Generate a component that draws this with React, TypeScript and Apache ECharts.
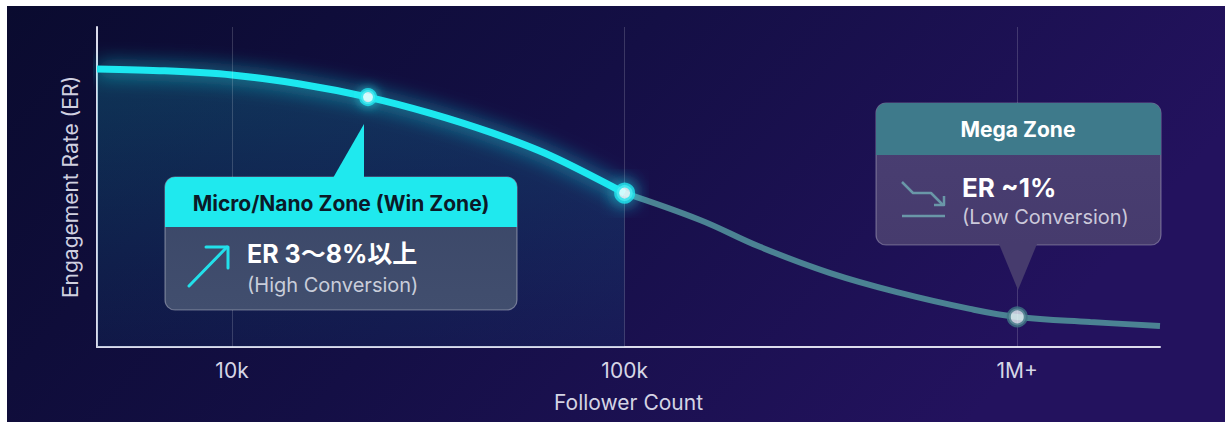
import React, { useEffect, useRef } from "react";
import * as echarts from "echarts";

// Follower counts (log x) and engagement rate (%)
const followers = [4530, 6750, 10000, 14900, 22200, 31900, 46000, 65000, 100000, 155600, 221000, 334000, 503000, 758000, 1000000, 1535000, 2310000];
const engagement = [8.69, 8.63, 8.5, 8.22, 7.81, 7.31, 6.69, 5.97, 4.81, 3.97, 3.13, 2.31, 1.69, 1.19, 0.94, 0.78, 0.66];
const splitFollower = 100000; // cyan (win zone) until here, grey after
const markerFollowers = [22200, 100000, 1000000];
const tickValues = [10000, 100000, 1000000];
const tickLabels = ["10k", "100k", "1M+"];

const FONT = 'Inter, "Noto Sans CJK JP", "Noto Sans", sans-serif';

export default function App() {
  const ref = useRef<HTMLDivElement>(null);

  useEffect(() => {
    if (!ref.current) return;
    const chart = echarts.init(ref.current, null, { renderer: "svg" });

    const pairs = followers.map((f, i) => [f, engagement[i]]);
    const cyanData = pairs.filter((p) => p[0] <= splitFollower);
    const greyData = pairs.filter((p) => p[0] >= splitFollower);
    const erAt = (f: number) => engagement[followers.indexOf(f)];

    const markerStyles = [
      { symbolSize: 14, itemStyle: { color: "#f2ffff", borderColor: "#22e6ef", borderWidth: 4, shadowBlur: 12, shadowColor: "rgba(40,235,245,0.9)" } },
      { symbolSize: 16, itemStyle: { color: "#f2ffff", borderColor: "#22e6ef", borderWidth: 5, shadowBlur: 18, shadowColor: "rgba(40,235,245,1)" } },
      { symbolSize: 17, itemStyle: { color: "#e9f5f7", borderColor: "#3f7585", borderWidth: 4 } },
    ];

    const option: any = {
      animation: false,
      backgroundColor: "#ffffff",
      grid: { left: 97, right: 65, top: 27, bottom: 75 },
      xAxis: {
        type: "log",
        logBase: 10,
        min: followers[0],
        max: followers[followers.length - 1],
        name: "Follower Count",
        nameLocation: "middle",
        nameGap: 45,
        nameTextStyle: { color: "#d4d4e4", fontSize: 21, fontFamily: FONT },
        axisLine: { show: true, lineStyle: { color: "#dcdcec", width: 2 } },
        axisTick: { show: false },
        splitLine: { show: false },
        axisLabel: {
          color: "#d6d6e6",
          fontSize: 21,
          fontFamily: FONT,
          margin: 13,
          showMinLabel: false,
          showMaxLabel: false,
          formatter: (v: number) => {
            const idx = tickValues.findIndex((t) => Math.abs(Math.log10(v) - Math.log10(t)) < 1e-6);
            return idx >= 0 ? tickLabels[idx] : "";
          },
        },
      },
      yAxis: {
        type: "value",
        min: 0,
        max: 10,
        name: "Engagement Rate (ER)",
        nameLocation: "middle",
        nameGap: 16,
        nameRotate: 90,
        nameTextStyle: { color: "#d0d0e0", fontSize: 21, fontFamily: FONT },
        axisLine: { show: true, lineStyle: { color: "#dcdcec", width: 2 } },
        axisTick: { show: false },
        axisLabel: { show: false },
        splitLine: { show: false },
      },
      series: [
        {
          type: "line",
          data: greyData,
          smooth: 0.4,
          symbol: "none",
          z: 2,
          lineStyle: { color: "#4b8293", width: 6 },
          markLine: {
            silent: true,
            symbol: ["none", "none"],
            label: { show: false },
            lineStyle: { color: "rgba(255,255,255,0.17)", width: 1, type: "solid" },
            data: tickValues.map((t) => ({ xAxis: t })),
          },
        },
        {
          type: "line",
          data: cyanData,
          smooth: 0.3,
          symbol: "none",
          z: 3,
          lineStyle: { color: "#1ee8f0", width: 7, shadowBlur: 20, shadowColor: "rgba(30,230,240,0.9)" },
          areaStyle: {
            color: new echarts.graphic.LinearGradient(0, 0, 0, 1, [
              { offset: 0, color: "rgba(20,150,170,0.42)" },
              { offset: 1, color: "rgba(20,90,140,0.2)" },
            ]),
          },
        },
        {
          type: "scatter",
          z: 5,
          data: markerFollowers.map((f, i) => ({ value: [f, erAt(f)], ...markerStyles[i] })),
        },
      ],
      graphic: [
        {
          type: "rect",
          z: -100,
          silent: true,
          shape: { x: 7, y: 6, width: 1218, height: 416 },
          style: {
            fill: new echarts.graphic.LinearGradient(0, 0, 1, 0.3, [
              { offset: 0, color: "#0a0b2f" },
              { offset: 0.5, color: "#140f45" },
              { offset: 1, color: "#23125e" },
            ]),
          },
        },
        // Left callout
        {
          type: "group",
          z: 100,
          children: [
            {
              type: "rect",
              z: 100,
              shape: { x: 165, y: 177, width: 352, height: 133, r: 10 },
              style: {
                fill: new echarts.graphic.LinearGradient(0, 0, 0, 1, [
                  { offset: 0, color: "#3a4667" },
                  { offset: 1, color: "#414e6e" },
                ]),
                stroke: "rgba(255,255,255,0.35)",
                lineWidth: 1.2,
              },
            },
            {
              type: "rect",
              z: 101,
              shape: { x: 165, y: 177, width: 352, height: 50, r: [10, 10, 0, 0] },
              style: { fill: "#1fe9ee" },
            },
            {
              type: "polygon",
              z: 101,
              shape: { points: [[333, 178], [364, 124], [364, 178]] },
              style: { fill: "#1fe9ee" },
            },
            {
              type: "text",
              z: 102,
              style: { text: "Micro/Nano Zone (Win Zone)", x: 341, y: 203, fill: "#0b1a28", fontSize: 21, fontWeight: "bold", fontFamily: FONT, align: "center", verticalAlign: "middle" },
            },
            {
              type: "polyline",
              z: 102,
              shape: { points: [[189, 286], [227, 247]] },
              style: { stroke: "#22e0ea", lineWidth: 3, lineCap: "round" },
            },
            {
              type: "polyline",
              z: 102,
              shape: { points: [[206, 247], [228, 247], [228, 268]] },
              style: { stroke: "#22e0ea", lineWidth: 3, fill: "none", lineCap: "round", lineJoin: "round" },
            },
            {
              type: "text",
              z: 102,
              style: { text: "ER 3〜8%以上", x: 247, y: 254, fill: "#ffffff", fontSize: 25, fontWeight: "bold", fontFamily: FONT, align: "left", verticalAlign: "middle" },
            },
            {
              type: "text",
              z: 102,
              style: { text: "(High Conversion)", x: 247, y: 285, fill: "#c9cdda", fontSize: 20, fontFamily: FONT, align: "left", verticalAlign: "middle" },
            },
          ],
        },
        // Right callout
        {
          type: "group",
          z: 100,
          children: [
            {
              type: "rect",
              z: 100,
              shape: { x: 876, y: 103, width: 285, height: 142, r: 10 },
              style: {
                fill: new echarts.graphic.LinearGradient(0, 0, 0, 1, [
                  { offset: 0, color: "#4a3f73" },
                  { offset: 1, color: "#463b6d" },
                ]),
                stroke: "rgba(255,255,255,0.3)",
                lineWidth: 1.2,
              },
            },
            {
              type: "rect",
              z: 101,
              shape: { x: 876, y: 103, width: 285, height: 52, r: [10, 10, 0, 0] },
              style: { fill: "#3e7a8b" },
            },
            {
              type: "polygon",
              z: 101,
              shape: { points: [[999, 244], [1037, 244], [1018, 290]] },
              style: { fill: "#463b6d" },
            },
            {
              type: "text",
              z: 102,
              style: { text: "Mega Zone", x: 1018, y: 129, fill: "#ffffff", fontSize: 21, fontWeight: "bold", fontFamily: FONT, align: "center", verticalAlign: "middle" },
            },
            {
              type: "polyline",
              z: 102,
              shape: { points: [[902, 182], [913, 193], [931, 193], [943, 205]] },
              style: { stroke: "#6a97a8", lineWidth: 2.5, fill: "none", lineJoin: "round" },
            },
            {
              type: "polyline",
              z: 102,
              shape: { points: [[934, 205], [944, 205], [944, 196]] },
              style: { stroke: "#6a97a8", lineWidth: 2.5, fill: "none", lineJoin: "round" },
            },
            {
              type: "line",
              z: 102,
              shape: { x1: 902, y1: 216, x2: 945, y2: 216 },
              style: { stroke: "#6a97a8", lineWidth: 2.5 },
            },
            {
              type: "text",
              z: 102,
              style: { text: "ER ~1%", x: 962, y: 187, fill: "#ffffff", fontSize: 26, fontWeight: "bold", fontFamily: FONT, align: "left", verticalAlign: "middle" },
            },
            {
              type: "text",
              z: 102,
              style: { text: "(Low Conversion)", x: 962, y: 217, fill: "#cbc8da", fontSize: 20, fontFamily: FONT, align: "left", verticalAlign: "middle" },
            },
          ],
        },
      ],
    };

    chart.setOption(option);
    return () => chart.dispose();
  }, []);

  return (
    <div
      ref={ref}
      style={{ position: "absolute", left: 0, top: 0, width: 1225, height: 422 }}
    />
  );
}
